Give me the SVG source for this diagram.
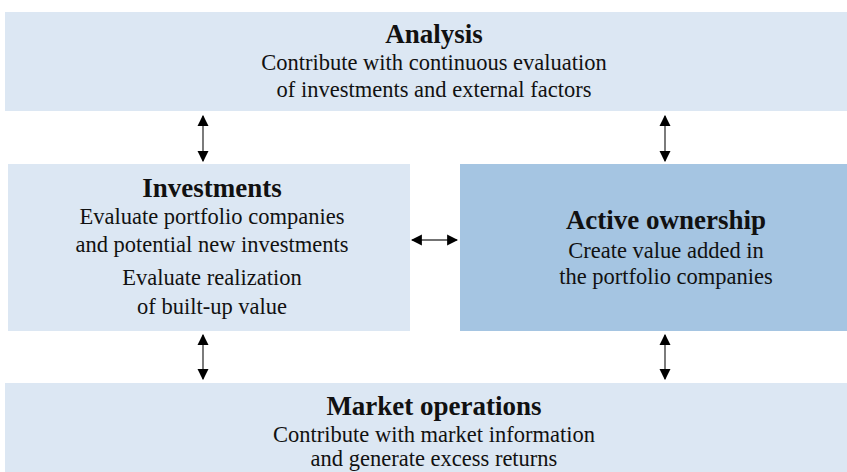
<svg xmlns="http://www.w3.org/2000/svg" width="847" height="472" viewBox="0 0 847 472">
<style>
.box{fill:#dce7f3}
.dark{fill:#a5c5e2}
.t{font-weight:bold;font-size:27px;fill:#111;text-anchor:middle}
.b{font-size:22.5px;fill:#111;text-anchor:middle}
.c{stroke:#444;stroke-width:1.4;fill:none;marker-start:url(#ah);marker-end:url(#ah)}
</style>
<defs>
<marker id="ah" viewBox="0 0 10 10" refX="9" refY="5" markerWidth="11" markerHeight="16" markerUnits="userSpaceOnUse" orient="auto-start-reverse">
<path d="M0,0 L10,5 L0,10 Z" fill="#000"/>
</marker>
</defs>
<rect width="847" height="472" fill="#fff"/>
<g font-family="Liberation Serif, Times New Roman, serif">
<g id="analysis">
<rect class="box" x="5" y="12" width="842" height="99"/>
<text class="t" x="434" y="43">Analysis</text>
<text class="b" x="434" y="70">Contribute with continuous evaluation</text>
<text class="b" x="434" y="97">of investments and external factors</text>
</g>
<g id="investments">
<rect class="box" x="8" y="164" width="402" height="167"/>
<text class="t" x="212" y="197">Investments</text>
<text class="b" x="212" y="224">Evaluate portfolio companies</text>
<text class="b" x="212" y="252">and potential new investments</text>
<text class="b" x="212" y="285">Evaluate realization</text>
<text class="b" x="212" y="314">of built-up value</text>
</g>
<g id="active">
<rect class="dark" x="460" y="164" width="387" height="167"/>
<text class="t" x="666" y="229">Active ownership</text>
<text class="b" x="666" y="258">Create value added in</text>
<text class="b" x="666" y="284">the portfolio companies</text>
</g>
<g id="market">
<rect class="box" x="5" y="383" width="842" height="89"/>
<text class="t" x="434" y="415">Market operations</text>
<text class="b" x="434" y="442">Contribute with market information</text>
<text class="b" x="434" y="466">and generate excess returns</text>
</g>
</g>
<g id="connectors">
<line class="c" x1="203" y1="116" x2="203" y2="161"/>
<line class="c" x1="665" y1="116" x2="665" y2="161"/>
<line class="c" x1="412" y1="240" x2="457" y2="240"/>
<line class="c" x1="203" y1="335" x2="203" y2="379"/>
<line class="c" x1="665" y1="335" x2="665" y2="379"/>
</g>
</svg>
